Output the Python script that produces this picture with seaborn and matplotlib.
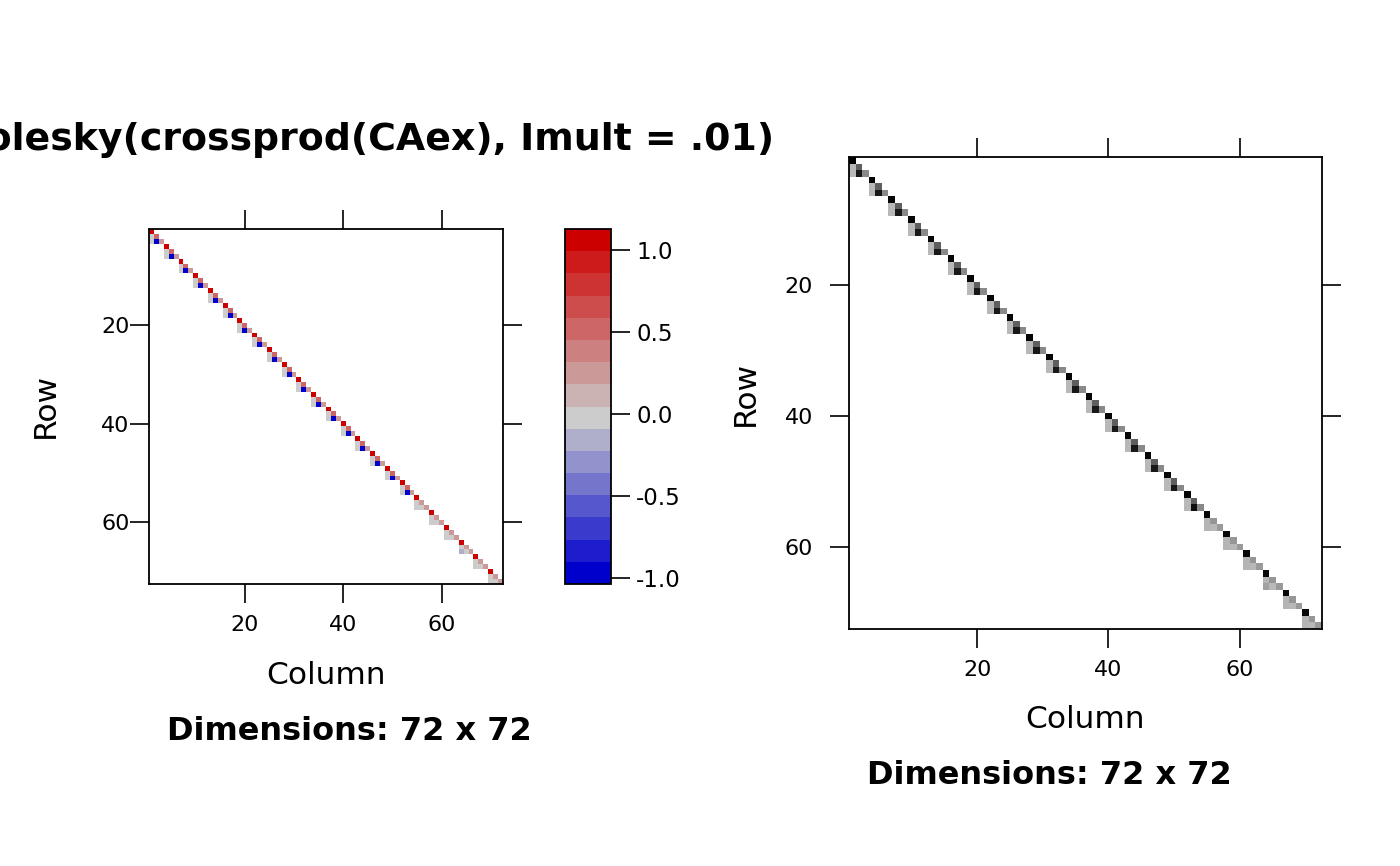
import numpy as np
import matplotlib
matplotlib.use('Agg')
import matplotlib.pyplot as plt
import seaborn as sns
from matplotlib.colors import ListedColormap

# Cholesky factor of crossprod(CAex): 24 lower-triangular 3x3 diagonal blocks.
# One value per block for each of the six stored entries (row, col within block).
l11 = [1.13, 1.10, 1.10, 1.10, 1.10, 1.10, 1.10, 1.10, 1.10, 1.10, 1.10, 1.10,
       1.10, 1.10, 1.10, 1.10, 1.10, 1.10, 1.08, 1.08, 1.08, 1.08, 1.08, 1.08]
l21 = [0.01, 0.01, 0.01, 0.01, 0.01, 0.01, 0.01, 0.01, 0.01, 0.01, 0.01, 0.01,
       0.01, 0.01, 0.01, 0.01, 0.01, 0.01, 0.04, 0.04, 0.04, 0.04, 0.04, 0.04]
l22 = [0.55, 0.55, 0.55, 0.55, 0.55, 0.55, 0.55, 0.55, 0.55, 0.55, 0.55, 0.55,
       0.55, 0.55, 0.55, 0.55, 0.55, 0.55, 0.22, 0.22, 0.22, 0.22, 0.22, 0.22]
l31 = [0.01, 0.01, 0.01, 0.01, 0.01, 0.01, 0.01, 0.01, 0.01, 0.01, 0.01, 0.01,
       0.01, 0.01, 0.01, 0.01, 0.01, 0.01, 0.04, 0.04, 0.04, -0.15, 0.04, 0.04]
l32 = [-0.98, -0.98, -0.98, -0.98, -0.98, -0.98, -0.98, -0.98, -0.98, -0.98, -0.98, -0.98,
       -0.98, -0.98, -0.98, -0.98, -0.98, -1.034, 0.02, 0.02, 0.02, 0.02, 0.02, 0.02]
l33 = [0.30, 0.30, 0.30, 0.30, 0.30, 0.30, 0.30, 0.30, 0.30, 0.30, 0.30, 0.30,
       0.30, 0.30, 0.30, 0.30, 0.30, 0.30, 0.20, 0.20, 0.20, 0.20, 0.20, 0.20]

tick_pos = [20, 40, 60]
cbar_ticks = [-1.0, -0.5, 0.0, 0.5, 1.0]
cbar_labels = ['-1.0', '-0.5', '0.0', '0.5', '1.0']
title = 'Cholesky(crossprod(CAex), Imult = .01)'
sub = 'Dimensions: 72 x 72'

# assemble the sparse matrix (NaN = structural zero)
n = 3 * len(l11)
mat = np.full((n, n), np.nan)
for k in range(len(l11)):
    i = 3 * k
    mat[i, i] = l11[k]
    mat[i + 1, i] = l21[k]
    mat[i + 1, i + 1] = l22[k]
    mat[i + 2, i] = l31[k]
    mat[i + 2, i + 1] = l32[k]
    mat[i + 2, i + 2] = l33[k]

# Matrix-style palettes: blue3 -> gray80, gray80 -> red3
blue = np.linspace([0, 0, 205], [204, 204, 204], 8) / 255
red = np.linspace([204, 204, 204], [205, 0, 0], 9)[1:] / 255
div_cmap = ListedColormap(np.vstack([blue, red]))
grey_cmap = ListedColormap([(g, g, g) for g in np.linspace(0.72, 0.0, 100)])

sns.set_style('white')
plt.rcParams['font.family'] = ['DejaVu Sans']
plt.rcParams['axes.unicode_minus'] = False

W, H = 1400, 866
fig = plt.figure(figsize=(W / 100, H / 100), dpi=100)


def box(x0, y0, x1, y1):
    return [x0 / W, 1 - y1 / H, (x1 - x0) / W, (y1 - y0) / H]


ax1 = fig.add_axes(box(149, 229, 503, 584))
cax = fig.add_axes(box(565, 229, 611, 584))
ax2 = fig.add_axes(box(849, 157, 1322, 629))

mask = np.isnan(mat)
sns.heatmap(mat, ax=ax1, cmap=div_cmap, vmin=np.nanmin(mat), vmax=np.nanmax(mat),
            mask=mask, cbar_ax=cax, xticklabels=False, yticklabels=False)
absmat = np.abs(mat)
sns.heatmap(absmat, ax=ax2, cmap=grey_cmap, vmin=np.nanmin(absmat), vmax=np.nanmax(absmat),
            mask=mask, cbar=False, xticklabels=False, yticklabels=False)

for ax, ypad in ((ax1, 0), (ax2, 12)):
    ax.set_xticks([t - 0.5 for t in tick_pos])
    ax.set_xticklabels([str(t) for t in tick_pos], rotation=0)
    ax.set_yticks([t - 0.5 for t in tick_pos])
    ax.set_yticklabels([str(t) for t in tick_pos], rotation=0)
    ax.tick_params(direction='out', length=14, width=1.2, labelsize=16,
                   top=True, right=True, bottom=True, left=True,
                   labeltop=False, labelright=False, colors='black')
    ax.tick_params(axis='x', pad=8)
    ax.tick_params(axis='y', pad=ypad)
    for s in ax.spines.values():
        s.set_visible(True)
        s.set_color('black')
        s.set_linewidth(1.3)

cb = ax1.collections[0].colorbar
cb.set_ticks(cbar_ticks)
cb.set_ticklabels(cbar_labels)
cb.ax.tick_params(direction='out', length=14, width=1.2, pad=4, labelsize=16.5, colors='black')
cb.outline.set_visible(True)
cb.outline.set_edgecolor('black')
cb.outline.set_linewidth(1.3)


def px_text(x, y, s, **kw):
    fig.text(x / W, 1 - y / H, s, ha='center', va='center', color='black', **kw)


px_text(353, 140, title, fontsize=27.3, fontweight='bold')
px_text(45, 406, 'Row', fontsize=22.5, rotation=90)
px_text(326, 676, 'Column', fontsize=22.5)
px_text(349, 731, sub, fontsize=23, fontweight='bold')
px_text(745, 393, 'Row', fontsize=22.5, rotation=90)
px_text(1085, 720, 'Column', fontsize=22.5)
px_text(1049, 776, sub, fontsize=23, fontweight='bold')

fig.savefig('out.png', dpi=100)
